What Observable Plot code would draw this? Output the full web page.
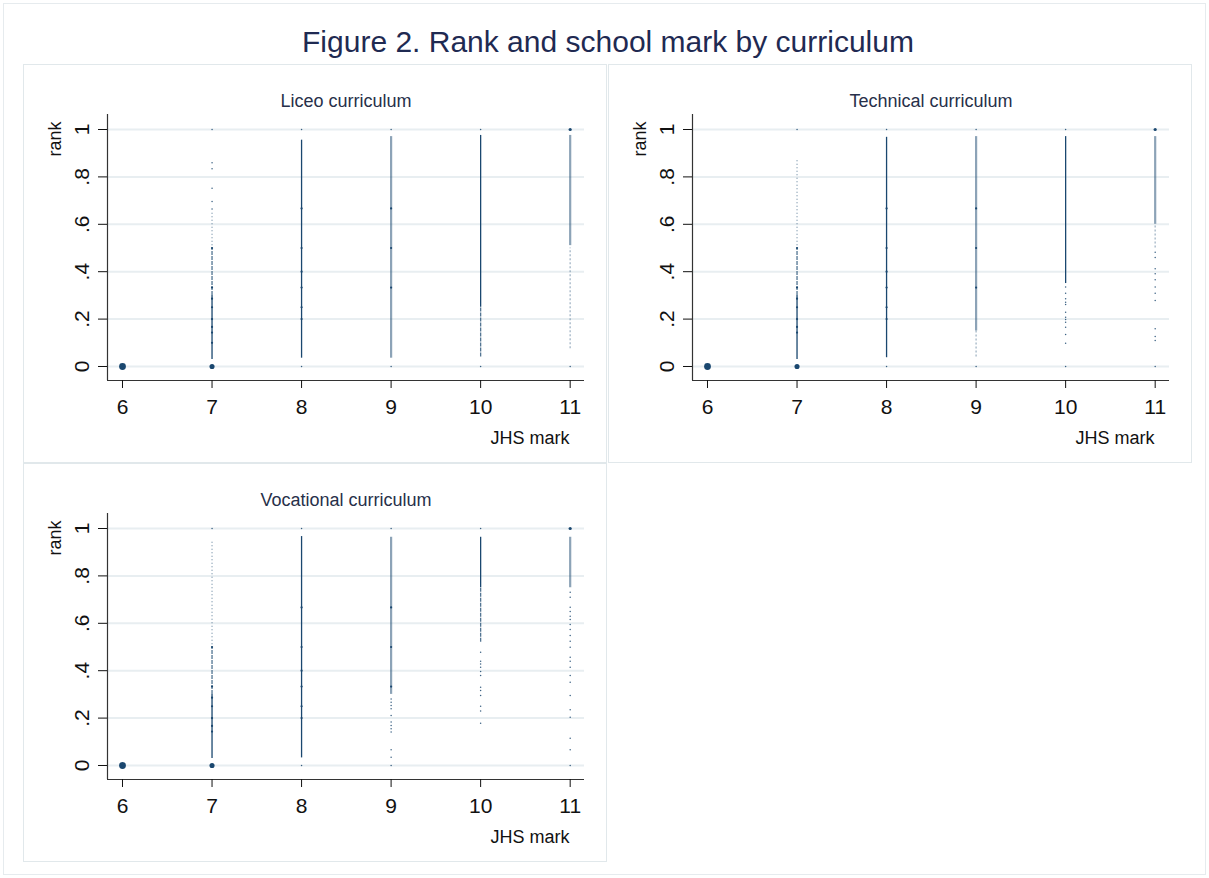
<!DOCTYPE html>
<html><head><meta charset="utf-8">
<script src="https://cdn.jsdelivr.net/npm/d3@7"></script>
<script src="https://cdn.jsdelivr.net/npm/@observablehq/plot@0.6"></script>
<style>
html,body{margin:0;padding:0;background:#fff;}
#fig{position:relative;width:1209px;height:878px;font-family:"Liberation Sans",Arial,sans-serif;overflow:hidden;}
.frame{position:absolute;left:3px;top:3px;width:1203px;height:872px;box-sizing:border-box;border:1px solid #e6ebee;}
#title{position:absolute;left:0;width:1216px;top:25px;text-align:center;font-size:30px;line-height:34px;color:#1f2a52;white-space:nowrap;}
.panel{position:absolute;width:584px;height:399px;box-shadow:inset 0 0 0 1px #e1e8eb;}
.panel svg{position:absolute;left:0;top:0;}
</style></head>
<body><div id="fig"><div class="frame"></div><div id="title">Figure 2. Rank and school mark by curriculum</div></div>
<script>
const panelTitles = ["Liceo curriculum", "Technical curriculum", "Vocational curriculum"];
const xTicks = [6, 7, 8, 9, 10, 11];
const yTicks = [0, 0.2, 0.4, 0.6, 0.8, 1];
const yTickLabels = ["0", ".2", ".4", ".6", ".8", "1"];
const xTitle = "JHS mark";
const yTitle = "rank";

// stripes of densely packed observations: [JHS mark, rank from, rank to, density]
const liceoStripes = [
  [7, 0.51, 0.65, "sparse"], [7, 0.30, 0.50, "medium"], [7, 0.03, 0.30, "dense"],
  [8, 0.035, 0.955, "dense"],
  [9, 0.035, 0.97, "light"],
  [10, 0.25, 0.975, "dense"], [10, 0.04, 0.25, "medium"],
  [11, 0.51, 0.975, "light"], [11, 0.075, 0.50, "faint"]
];
const technicalStripes = [
  [7, 0.51, 0.875, "sparse"], [7, 0.30, 0.50, "medium"], [7, 0.03, 0.30, "dense"],
  [8, 0.037, 0.967, "dense"],
  [9, 0.15, 0.97, "light"], [9, 0.04, 0.15, "faint"],
  [10, 0.35, 0.97, "dense"],
  [11, 0.60, 0.97, "light"], [11, 0.50, 0.60, "faint"]
];
const vocationalStripes = [
  [7, 0.51, 0.946, "sparse"], [7, 0.30, 0.50, "medium"], [7, 0.03, 0.30, "dense"],
  [8, 0.032, 0.966, "dense"],
  [9, 0.30, 0.963, "light"],
  [10, 0.75, 0.963, "dense"], [10, 0.52, 0.75, "medium"],
  [11, 0.75, 0.963, "light"]
];

// isolated observations: [JHS mark, rank]
const liceoDots = [[7,1],[7,0.86],[7,0.834],[7,0.752],[7,0.696],[7,0.665],[8,1],[8,0],[9,1],[9,0],[10,1],[10,0],[11,0]];
const technicalDots = [[7,1],[8,1],[9,1],[10,1],[8,0],[9,0],[10,0],[11,0],
  [10,0.335],[10,0.309],[10,0.286],[10,0.271],[10,0.262],[10,0.229],[10,0.208],[10,0.198],[10,0.187],[10,0.166],[10,0.135],[10,0.098],
  [11,0.482],[11,0.46],[11,0.412],[11,0.391],[11,0.366],[11,0.335],[11,0.309],[11,0.278],[11,0.159],[11,0.127],[11,0.11]];
const vocationalDots = [[7,1],[8,1],[9,1],[10,1],[8,0],[9,0],[11,0],
  [9,0.281],[9,0.267],[9,0.253],[9,0.239],[9,0.211],[9,0.183],[9,0.169],[9,0.155],[9,0.141],[9,0.066],[9,0.035],
  [10,0.478],[10,0.44],[10,0.428],[10,0.415],[10,0.397],[10,0.38],[10,0.33],[10,0.316],[10,0.295],[10,0.25],[10,0.23],[10,0.178],
  [11,0.731],[11,0.71],[11,0.668],[11,0.65],[11,0.63],[11,0.616],[11,0.595],[11,0.574],[11,0.549],[11,0.524],[11,0.499],
  [11,0.457],[11,0.44],[11,0.415],[11,0.38],[11,0.351],[11,0.295],[11,0.235],[11,0.204],[11,0.115],[11,0.066]];

// tied ranks (many overlapping observations): [JHS mark, rank]
const liceoTies = [[7,0.5],[7,0.333],[7,0.286],[7,0.25],[7,0.2],[7,0.167],[7,0.143],[7,0.1],
  [8,0.667],[8,0.5],[8,0.4],[8,0.333],[8,0.25],[8,0.2],[9,0.667],[9,0.5],[9,0.333]];
const technicalTies = [[7,0.5],[7,0.333],[7,0.286],[7,0.25],[7,0.2],[7,0.167],[7,0.143],
  [8,0.667],[8,0.5],[8,0.4],[8,0.333],[8,0.25],[8,0.2],[9,0.667],[9,0.5],[9,0.333]];
const vocationalTies = [[7,0.5],[7,0.333],[7,0.286],[7,0.25],[7,0.2],[7,0.167],[7,0.143],
  [8,0.667],[8,0.5],[8,0.4],[8,0.333],[8,0.25],[8,0.2],[9,0.667],[9,0.5],[9,0.333]];

// heavy clusters: [JHS mark, rank, relative count]
const liceoClusters = [[6,0,9],[7,0,5],[11,1,2]];
const technicalClusters = [[6,0,9],[7,0,5],[11,1,2]];
const vocationalClusters = [[6,0,9],[7,0,5],[11,1,2]];

const navy = "#1a476f";
const stripeStyle = {
  dense:  {strokeWidth: 1.3, strokeOpacity: 1},
  medium: {strokeWidth: 1.3, strokeOpacity: 0.75, strokeDasharray: "4,1"},
  light:  {strokeWidth: 2.2, strokeOpacity: 0.5},
  sparse: {strokeWidth: 1.2, strokeOpacity: 0.6, strokeDasharray: "1,2.5"},
  faint:  {strokeWidth: 1.5, strokeOpacity: 0.35, strokeDasharray: "2,2"}
};
const X0 = 5.8325, X1 = 11.16, Y0 = -0.0591, Y1 = 1.0633;
const font = '"Liberation Sans", Arial, sans-serif';

function panel(title, stripes, dots, ties, clusters) {
  const stripeMarks = Object.entries(stripeStyle).map(([k, st]) =>
    Plot.ruleX(stripes.filter(s => s[3] === k), {x: d => d[0], y1: d => d[1], y2: d => d[2], stroke: navy, ...st}));
  return Plot.plot({
    width: 584, height: 399,
    marginLeft: 84, marginRight: 23, marginTop: 50, marginBottom: 83,
    x: {domain: [X0, X1]},
    y: {domain: [Y0, Y1]},
    r: {type: "sqrt", domain: [0, 9], range: [0, 3.4]},
    style: {fontFamily: font, background: "transparent", color: "#111", overflow: "visible"},
    marks: [
      Plot.gridY(yTicks, {stroke: "#e8eef1", strokeOpacity: 1, strokeWidth: 2}),
      ...stripeMarks,
      Plot.dot(dots, {x: d => d[0], y: d => d[1], r: 0.75, fill: navy, fillOpacity: 0.85}),
      Plot.dot(ties, {x: d => d[0], y: d => d[1], r: 1.1, fill: navy}),
      Plot.dot(clusters, {x: d => d[0], y: d => d[1], r: d => d[2], fill: navy}),
      Plot.ruleX([X0], {stroke: "#333", strokeWidth: 1.2}),
      Plot.ruleY([Y0], {stroke: "#333", strokeWidth: 1.2}),
      Plot.axisY({ticks: yTicks, tickFormat: d => yTickLabels[yTicks.indexOf(d)], tickSize: 9, tickPadding: 10,
        tickRotate: -90, fontSize: 21, label: null, color: "#111"}),
      Plot.axisX({ticks: xTicks, tickFormat: d => String(d), tickSize: 8, tickPadding: 11, fontSize: 21, label: null, color: "#111"}),
      Plot.text([title], {text: d => d, frameAnchor: "top", dy: -8, lineAnchor: "bottom", textAnchor: "middle", fontSize: 18, fill: "#27304a"}),
      Plot.text([yTitle], {text: d => d, frameAnchor: "top-left", dx: -46.5, dy: 7, rotate: -90, textAnchor: "end", lineAnchor: "bottom", fontSize: 18, fill: "#111"}),
      Plot.text([xTitle], {text: d => d, frameAnchor: "bottom-right", dx: -15, dy: 63, textAnchor: "end", lineAnchor: "bottom", fontSize: 18, fill: "#111"})
    ]
  });
}

const fig = document.getElementById("fig");
const positions = [[23, 64], [608, 64], [23, 463]];
const panelData = [
  [liceoStripes, liceoDots, liceoTies, liceoClusters],
  [technicalStripes, technicalDots, technicalTies, technicalClusters],
  [vocationalStripes, vocationalDots, vocationalTies, vocationalClusters]
];
panelData.forEach((p, i) => {
  const div = document.createElement("div");
  div.className = "panel";
  div.style.left = positions[i][0] + "px";
  div.style.top = positions[i][1] + "px";
  div.appendChild(panel(panelTitles[i], ...p));
  fig.appendChild(div);
});
</script>
</body></html>
